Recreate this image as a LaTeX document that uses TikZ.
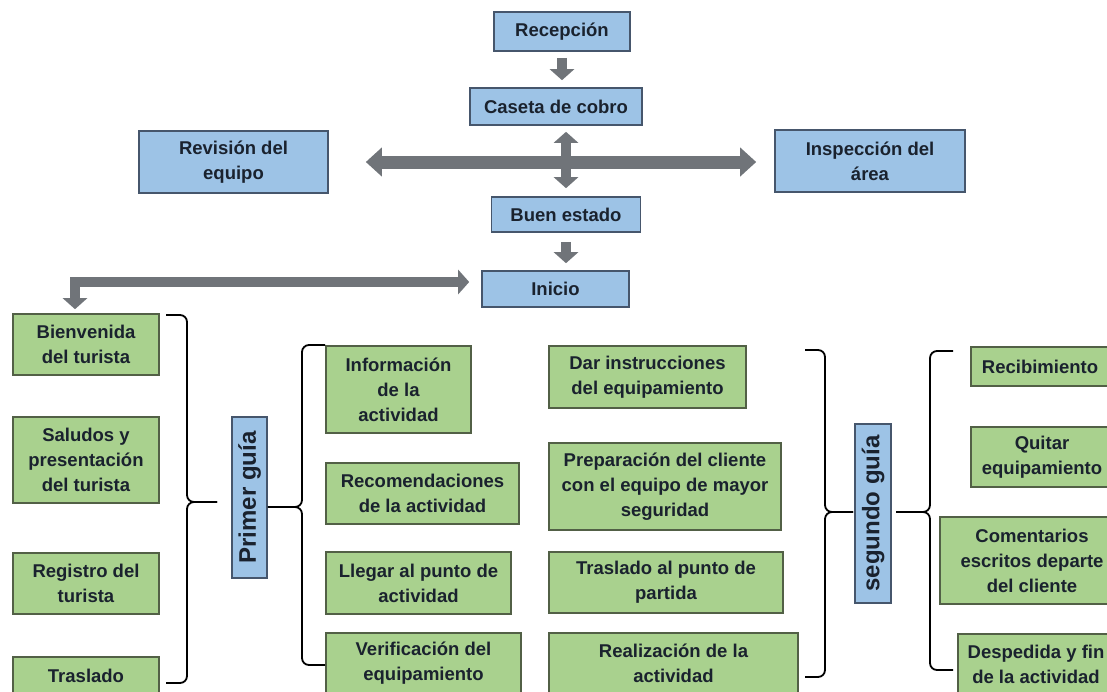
\documentclass[tikz,border=0pt]{standalone}
\usepackage{fontspec}
\setmainfont{Liberation Sans}
\usetikzlibrary{arrows.meta}
\definecolor{azul}{RGB}{157,195,230}
\definecolor{azulb}{RGB}{70,86,108}
\definecolor{verde}{RGB}{169,209,142}
\definecolor{verdeb}{RGB}{82,96,70}
\definecolor{gris}{RGB}{112,116,121}
\definecolor{tinta}{RGB}{26,34,46}
\def\llave{\draw[black,line width=1.8pt,rounded corners=7pt]}
\def\gris{\draw[fl]}

\begin{document}
\begin{tikzpicture}[x=1pt,y=-1pt,
    caja/.style={draw,line width=1.6pt,inner sep=0pt,align=center,text=tinta,
        font=\bfseries\fontsize{18.5}{25}\selectfont},
    az/.style={caja,fill=azul,draw=azulb},
    vd/.style={caja,fill=verde,draw=verdeb},
    guia/.style={az,rotate=90,font=\bfseries\fontsize{24}{28}\selectfont},
    fl/.style={draw=gris,line width=10pt,-{Triangle[width=24pt,length=11pt]}},
    dfl/.style={fl,{Triangle[width=24pt,length=11pt]}-{Triangle[width=24pt,length=11pt]}}]
    \useasboundingbox (0,0) rectangle (1107,691);
    \clip (0,0) rectangle (1107,691);

    % recorrido de entrada
    \node[az,minimum width=136,minimum height=39] (rec) at (562,31.5) {Recepción};
    \node[az,minimum width=172,minimum height=37] (cas) at (556,106.5) {Caseta de cobro};
    \node[az,minimum width=189,minimum height=62] (rev) at (233.5,162) {Revisión del\\equipo};
    \node[az,minimum width=190,minimum height=62] (ins) at (870,161) {Inspección del\\área};
    \node[az,minimum width=149,minimum height=35] (bue) at (566,214.5) {Buen estado};
    \node[az,minimum width=147,minimum height=36] (ini) at (555.5,289) {Inicio};

    % primer guia
    \node[guia,minimum width=161,minimum height=35] (primer) at (249.5,497.5) {Primer guía};
    \node[vd,minimum width=146,minimum height=61] (bien) at (86,344.5) {Bienvenida\\del turista};
    \node[vd,minimum width=146,minimum height=86] (salu) at (86,460) {Saludos y\\presentación\\del turista};
    \node[vd,minimum width=146,minimum height=61] (regi) at (86,583.5) {Registro del\\turista};
    \node[vd,minimum width=146,minimum height=37] (tras) at (86,675.5) {Traslado};
    \node[vd,minimum width=145,minimum height=87] (info) at (398.5,389.5) {Información\\de la\\actividad};
    \node[vd,minimum width=193,minimum height=61] (reco) at (422.5,493.5) {Recomendaciones\\de la actividad};
    \node[vd,minimum width=185,minimum height=62] (lleg) at (418.5,583) {Llegar al punto de\\actividad};
    \node[vd,minimum width=195,minimum height=61] (veri) at (423.5,663.5) {Verificación del\\equipamiento};

    % flechas
    \gris[shorten <=6,shorten >=7] (rec.south) -- (rec.south |- cas.north);
    \draw[dfl,shorten <=6,shorten >=8] (bue.north |- cas.south) -- (bue.north);
    \draw[dfl,line width=13pt,{Triangle[width=28pt,length=16pt]}-{Triangle[width=28pt,length=16pt]},
        shorten <=37,shorten >=18] (rev.east) -- (rev.east -| ins.west);
    \gris[shorten <=9,shorten >=7] (bue.south) -- (bue.south |- ini.north);
    \coordinate (codo) at (75,282);
    \draw[dfl,shorten <=4,shorten >=12] (codo |- bien.north) -- (codo) -- (codo -| ini.west);

    \coordinate (k1) at (187,502);
    \coordinate (t1) at (217,502);
    \coordinate (b1a) at (166,315);
    \coordinate (b1b) at (166,683);
    \llave (b1a) -| (k1) -- (t1);
    \llave (b1b) -| (k1) -- (t1);
    \coordinate (k2) at (302,507);
    \coordinate (b2a) at (325,345);
    \coordinate (b2b) at (325,665);
    \llave (b2a) -| (k2) -- (k2 -| primer.south);
    \llave (b2b) -| (k2) -- (k2 -| primer.south);

    % segundo guia
    \node[guia,minimum width=179,minimum height=36] (segundo) at (873,513.5) {segundo guía};
    \node[vd,minimum width=197,minimum height=62] (dar) at (647.5,377) {Dar instrucciones\\del equipamiento};
    \node[vd,minimum width=232,minimum height=87] (prep) at (665,486.5) {Preparación del cliente\\con el equipo de mayor\\seguridad};
    \node[vd,minimum width=234,minimum height=61] (tpp) at (666,582.5) {Traslado al punto de\\partida};
    \node[vd,minimum width=249,minimum height=61] (real) at (673.5,663.5) {Realización de la\\actividad};
    \node[vd,minimum width=138,minimum height=39] (recib) at (1040,366.5) {Recibimiento};
    \node[vd,minimum width=142,minimum height=60] (quit) at (1042,457) {Quitar\\equipamiento};
    \node[vd,minimum width=184,minimum height=87] (come) at (1032,560.5) {Comentarios\\escritos departe\\del cliente};
    \node[vd,minimum width=156,minimum height=61] (desp) at (1036,664.5) {Despedida y fin\\de la actividad};

    \coordinate (k3) at (825,512);
    \coordinate (t3) at (853,512);
    \coordinate (b3a) at (805,350);
    \coordinate (b3b) at (805,677);
    \llave (b3a) -| (k3) -- (t3);
    \llave (b3b) -| (k3) -- (t3);
    \coordinate (k4) at (930,512);
    \coordinate (t4) at (896,512);
    \coordinate (b4a) at (953,351);
    \coordinate (b4b) at (953,670);
    \llave (b4a) -| (k4) -- (t4);
    \llave (b4b) -| (k4) -- (t4);
\end{tikzpicture}
\end{document}
